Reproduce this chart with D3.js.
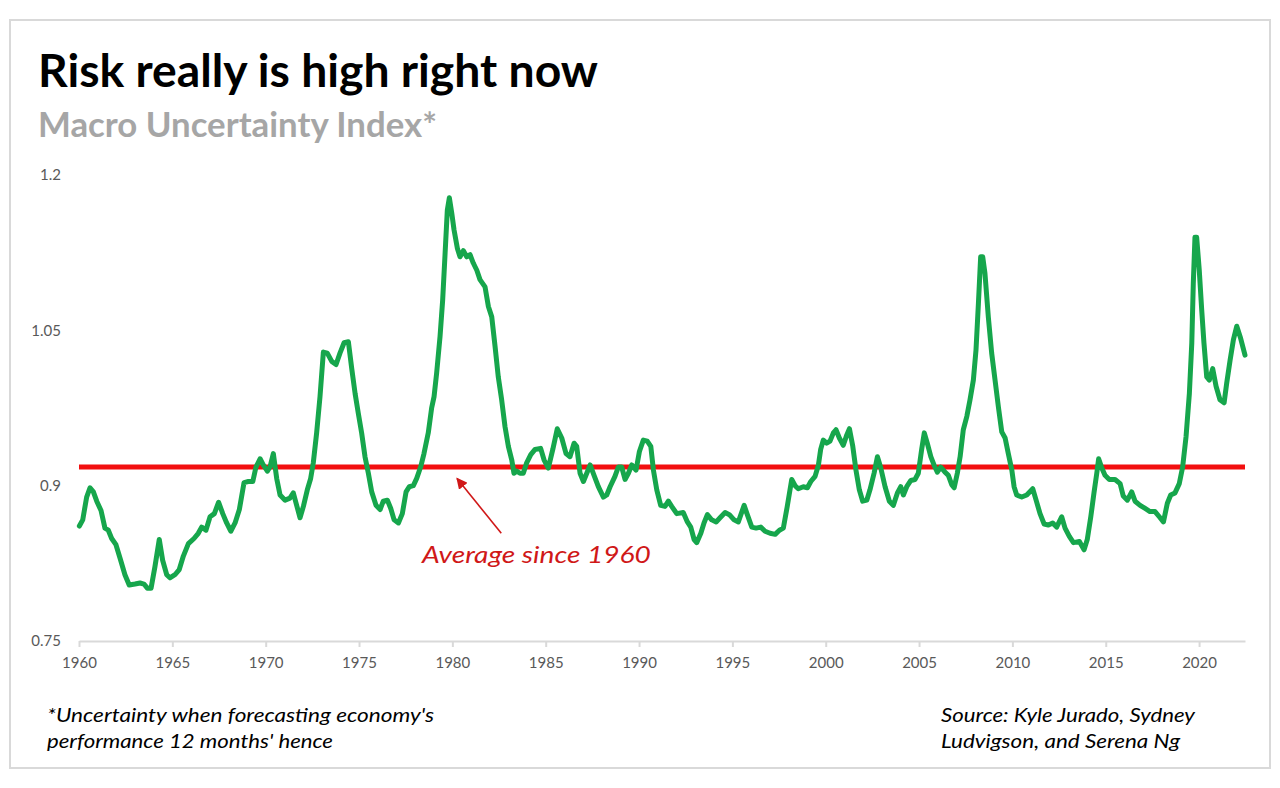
<!DOCTYPE html>
<html>
<head>
<meta charset="utf-8">
<script src="https://cdn.jsdelivr.net/npm/d3@7"></script>
<style>
  html, body { margin: 0; padding: 0; background: #fff; }
  svg { display: block; }
  text { font-family: Lato, "Open Sans", sans-serif; }
</style>
</head>
<body>
<svg id="chart" width="1280" height="788"></svg>
<script>
// ---------------- DATA ----------------
const years = [
1960.02,1960.20,1960.41,1960.59,1960.77,1960.95,1961.18,1961.39,1961.57,1961.75,1961.98,1962.20,1962.46,1962.69,1963.00,1963.27,1963.48,1963.66,1963.86,1964.07,1964.30,1964.48,1964.70,1964.87,1965.14,1965.37,1965.59,1965.86,1966.16,1966.39,1966.57,1966.80,1967.02,1967.25,1967.48,1967.70,1967.91,1968.13,1968.36,1968.59,1968.84,1969.07,1969.31,1969.48,1969.70,1969.87,1970.09,1970.23,1970.41,1970.59,1970.77,1971.04,1971.30,1971.48,1971.66,1971.84,1972.02,1972.23,1972.41,1972.55,1972.73,1972.91,1973.09,1973.30,1973.54,1973.77,1973.98,1974.20,1974.43,1974.61,1974.79,1974.96,1975.14,1975.32,1975.50,1975.68,1975.91,1976.13,1976.30,1976.52,1976.70,1976.88,1977.11,1977.32,1977.52,1977.69,1977.91,1978.09,1978.30,1978.48,1978.71,1978.89,1979.02,1979.16,1979.34,1979.48,1979.61,1979.73,1979.84,1979.97,1980.09,1980.27,1980.41,1980.59,1980.77,1980.95,1981.12,1981.31,1981.48,1981.75,1981.93,1982.11,1982.29,1982.46,1982.64,1982.82,1983.00,1983.18,1983.30,1983.45,1983.62,1983.80,1983.98,1984.20,1984.43,1984.73,1984.91,1985.14,1985.38,1985.62,1985.86,1986.09,1986.30,1986.52,1986.66,1986.84,1987.02,1987.20,1987.38,1987.59,1987.82,1988.09,1988.27,1988.45,1988.71,1988.89,1989.07,1989.25,1989.43,1989.61,1989.84,1990.02,1990.23,1990.44,1990.63,1990.77,1990.95,1991.16,1991.39,1991.57,1991.75,1992.02,1992.37,1992.59,1992.77,1992.95,1993.09,1993.31,1993.48,1993.66,1993.89,1994.13,1994.34,1994.61,1994.84,1995.09,1995.32,1995.63,1995.80,1996.04,1996.27,1996.52,1996.75,1997.02,1997.29,1997.52,1997.73,1997.94,1998.18,1998.36,1998.53,1998.80,1999.02,1999.20,1999.43,1999.61,1999.73,1999.87,2000.05,2000.23,2000.41,2000.55,2000.73,2000.94,2001.13,2001.27,2001.45,2001.62,2001.80,2001.98,2002.20,2002.37,2002.59,2002.77,2002.95,2003.18,2003.41,2003.62,2003.84,2004.02,2004.16,2004.34,2004.56,2004.78,2004.96,2005.14,2005.28,2005.44,2005.63,2005.80,2005.98,2006.16,2006.39,2006.57,2006.75,2006.88,2007.05,2007.20,2007.37,2007.56,2007.73,2007.91,2008.05,2008.18,2008.30,2008.41,2008.53,2008.71,2008.89,2009.07,2009.25,2009.43,2009.61,2009.78,2009.97,2010.09,2010.23,2010.50,2010.77,2011.09,2011.27,2011.48,2011.70,2011.93,2012.16,2012.37,2012.64,2012.82,2013.05,2013.27,2013.59,2013.84,2014.01,2014.20,2014.37,2014.52,2014.62,2014.79,2014.96,2015.19,2015.50,2015.77,2015.94,2016.16,2016.39,2016.57,2016.84,2017.11,2017.37,2017.64,2017.87,2018.09,2018.30,2018.48,2018.71,2018.94,2019.12,2019.30,2019.48,2019.61,2019.69,2019.78,2019.87,2020.01,2020.14,2020.26,2020.41,2020.55,2020.73,2020.91,2021.12,2021.34,2021.48,2021.66,2021.84,2022.02,2022.23,2022.46
];
const values = [
0.861,0.867,0.889,0.898,0.894,0.885,0.876,0.859,0.857,0.849,0.843,0.830,0.814,0.804,0.805,0.806,0.805,0.801,0.801,0.822,0.848,0.828,0.814,0.811,0.814,0.819,0.832,0.844,0.849,0.854,0.860,0.857,0.870,0.873,0.884,0.873,0.864,0.856,0.864,0.877,0.903,0.904,0.904,0.918,0.926,0.920,0.914,0.918,0.931,0.907,0.891,0.886,0.888,0.893,0.881,0.869,0.880,0.896,0.907,0.922,0.951,0.986,1.029,1.028,1.020,1.017,1.028,1.038,1.039,1.013,0.989,0.970,0.951,0.928,0.912,0.894,0.881,0.877,0.885,0.886,0.878,0.867,0.864,0.873,0.894,0.899,0.900,0.907,0.918,0.931,0.951,0.975,0.986,1.009,1.044,1.079,1.124,1.166,1.178,1.163,1.147,1.129,1.121,1.127,1.121,1.123,1.115,1.108,1.099,1.092,1.073,1.063,1.034,1.005,0.983,0.957,0.938,0.925,0.912,0.914,0.912,0.912,0.922,0.930,0.935,0.936,0.925,0.917,0.935,0.955,0.946,0.931,0.928,0.941,0.938,0.912,0.904,0.912,0.920,0.910,0.899,0.889,0.891,0.899,0.909,0.918,0.918,0.906,0.912,0.920,0.915,0.933,0.944,0.943,0.938,0.915,0.896,0.881,0.880,0.885,0.880,0.873,0.874,0.865,0.860,0.848,0.845,0.854,0.864,0.872,0.867,0.865,0.869,0.874,0.872,0.867,0.865,0.881,0.872,0.860,0.859,0.860,0.856,0.854,0.853,0.857,0.859,0.880,0.906,0.900,0.897,0.899,0.898,0.904,0.909,0.920,0.935,0.944,0.941,0.943,0.951,0.954,0.946,0.939,0.949,0.955,0.938,0.915,0.896,0.885,0.886,0.896,0.912,0.928,0.917,0.899,0.885,0.881,0.893,0.899,0.891,0.899,0.905,0.906,0.912,0.935,0.951,0.941,0.928,0.920,0.913,0.918,0.913,0.910,0.901,0.898,0.912,0.928,0.954,0.967,0.983,1.002,1.031,1.076,1.121,1.121,1.105,1.063,1.028,1.002,0.976,0.952,0.946,0.931,0.915,0.899,0.891,0.889,0.891,0.897,0.886,0.873,0.863,0.862,0.864,0.860,0.870,0.859,0.851,0.845,0.846,0.838,0.848,0.870,0.893,0.912,0.926,0.917,0.910,0.906,0.906,0.902,0.890,0.886,0.894,0.885,0.881,0.878,0.875,0.875,0.870,0.865,0.883,0.891,0.893,0.902,0.918,0.947,0.989,1.038,1.095,1.140,1.140,1.108,1.070,1.038,1.005,1.002,1.013,0.996,0.983,0.980,0.999,1.021,1.041,1.054,1.042,1.026
];
const averageSince1960 = 0.918;
const xTickYears = [1960,1965,1970,1975,1980,1985,1990,1995,2000,2005,2010,2015,2020];
const yTickValues = [0.75,0.9,1.05,1.2];
const yTickLabels = ["0.75","0.9","1.05","1.2"];
const xDomain = [1960, 2022.46];
const yDomain = [0.75, 1.2];

const titleText = "Risk really is high right now";
const subtitleText = "Macro Uncertainty Index*";
const annotationText = "Average since 1960";
const footnoteLines = ["*Uncertainty when forecasting economy's", "performance 12 months' hence"];
const sourceLines = ["Source: Kyle Jurado, Sydney", "Ludvigson, and Serena Ng"];

// annotation anchor points (data coordinates)
const arrowTail = {year: 1982.62, value: 0.854};
const arrowHead = {year: 1980.25, value: 0.907};
const annotationPos = {year: 1978.37, value: 0.825};

// ---------------- CHART ----------------
const svg = d3.select("#chart");

const x = d3.scaleLinear().domain(xDomain).range([79, 1245]);
const y = d3.scaleLinear().domain(yDomain).range([641, 175]);

// text condensed to the reference width (reference uses a narrow font)
function addText(px, py, str, size, width, opts = {}) {
  const t = svg.append("text")
    .attr("x", px).attr("y", py)
    .attr("font-size", size)
    .attr("font-weight", opts.weight || 400)
    .attr("font-style", opts.style || "normal")
    .attr("fill", opts.fill || "#000")
    .text(str);
  if (width) t.attr("textLength", width).attr("lengthAdjust", "spacingAndGlyphs");
  return t;
}

// border
svg.append("rect")
  .attr("x", 10).attr("y", 20).attr("width", 1260).attr("height", 748)
  .attr("fill", "#fff").attr("stroke", "#d9d9d9").attr("stroke-width", 2);

// title & subtitle
addText(38, 87, titleText, 46, 560, {weight: 700, fill: "#000"});
addText(38, 137, subtitleText, 34, 399, {weight: 700, fill: "#a6a6a6"});

// y axis (labels only)
const yAxis = d3.axisLeft(y)
  .tickValues(yTickValues)
  .tickFormat((d, i) => yTickLabels[i])
  .tickSize(0).tickPadding(0);
const gy = svg.append("g").attr("transform", "translate(61,0)").call(yAxis);
gy.select(".domain").remove();
gy.selectAll("text")
  .attr("font-family", "Lato, 'Open Sans', sans-serif")
  .attr("font-size", 15).attr("fill", "#595959");

// x axis
const xAxis = d3.axisBottom(x)
  .tickValues(xTickYears)
  .tickFormat(d3.format("d"))
  .tickSize(6).tickSizeOuter(0).tickPadding(10);
const gx = svg.append("g").attr("transform", `translate(0,${y(0.75)})`).call(xAxis);
gx.select(".domain").attr("stroke", "#d9d9d9").attr("stroke-width", 2);
gx.selectAll(".tick line").attr("stroke", "#d9d9d9").attr("stroke-width", 2);
gx.selectAll("text")
  .attr("font-family", "Lato, 'Open Sans', sans-serif")
  .attr("font-size", 15).attr("fill", "#595959");

// average line
svg.append("line")
  .attr("x1", x(xDomain[0])).attr("x2", x(xDomain[1]))
  .attr("y1", y(averageSince1960)).attr("y2", y(averageSince1960))
  .attr("stroke", "#f20f0f").attr("stroke-width", 5);

// uncertainty series
const series = years.map((yr, i) => ({year: yr, value: values[i]}));
const line = d3.line().x(d => x(d.year)).y(d => y(d.value)).curve(d3.curveLinear);
svg.append("path")
  .datum(series)
  .attr("d", line)
  .attr("fill", "none")
  .attr("stroke", "#16a64c")
  .attr("stroke-width", 5)
  .attr("stroke-linejoin", "round")
  .attr("stroke-linecap", "round");

// arrow annotation
const defs = svg.append("defs");
defs.append("marker")
  .attr("id", "arrowhead")
  .attr("viewBox", "0 0 10 10")
  .attr("refX", 9).attr("refY", 5)
  .attr("markerWidth", 7).attr("markerHeight", 7)
  .attr("orient", "auto")
  .append("path").attr("d", "M0,0 L10,5 L0,10 z").attr("fill", "#d01818");

svg.append("line")
  .attr("x1", x(arrowTail.year)).attr("y1", y(arrowTail.value))
  .attr("x2", x(arrowHead.year)).attr("y2", y(arrowHead.value))
  .attr("stroke", "#d01818").attr("stroke-width", 1.6)
  .attr("marker-end", "url(#arrowhead)");

addText(x(annotationPos.year), y(annotationPos.value), annotationText, 23, 229,
        {style: "italic", fill: "#d01818"});

// footnotes
addText(47, 722, footnoteLines[0], 20, 387, {style: "italic"});
addText(47, 748, footnoteLines[1], 20, 286, {style: "italic"});
addText(941, 722, sourceLines[0], 20, 254, {style: "italic"});
addText(941, 748, sourceLines[1], 20, 239, {style: "italic"});
</script>
</body>
</html>
